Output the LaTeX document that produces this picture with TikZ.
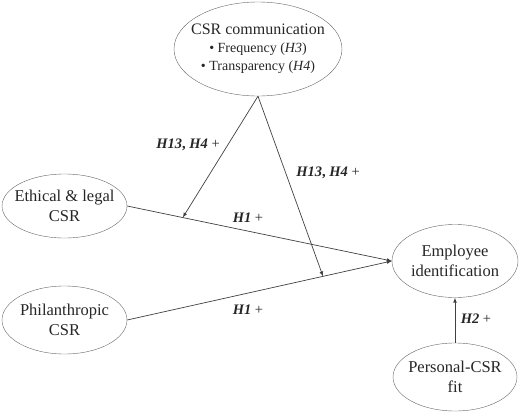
\documentclass[tikz,border=0pt]{standalone}
\usepackage{fontspec}
\setmainfont{Liberation Serif}
\usetikzlibrary{shapes.geometric,calc}
\begin{document}
\begin{tikzpicture}[>=latex,x=1pt,y=-1pt,
  var/.style={draw=black!60,ellipse,inner xsep=-10pt,inner ysep=0pt,align=center,text=black!85,font=\fontsize{16.5}{20}\selectfont},
  link/.style={->,draw=black!75,line width=.7pt},
  hyp/.style={text=black!85,font=\fontsize{14.5}{16}\selectfont}]
\useasboundingbox (0,0) rectangle (520,413);

\node[var,inner xsep=-11pt,minimum width=168,minimum height=94,font=\fontsize{14}{18}\selectfont] (csr) at (258,49)
  {{\fontsize{16}{18}\selectfont CSR communication}\\
   \textbullet\ Frequency (\textit{H3})\\
   \textbullet\ Transparency (\textit{H4})};
\node[var,minimum width=125,minimum height=64] (eth) at (64.5,206) {Ethical \& legal\\CSR};
\node[var,minimum width=125,minimum height=68] (phil) at (64.5,320) {Philanthropic\\CSR};
\node[var,minimum width=126,minimum height=73] (emp) at (455,261) {Employee\\identification};
\node[var,minimum width=124,minimum height=68] (fit) at (455,377) {Personal-CSR\\fit};

\coordinate (m1) at ($(eth.east)!.21!(emp.west)$);
\coordinate (m2) at ($(phil.east)!.74!(emp.west)$);

\draw[link] (eth.east) -- (emp.west);
\draw[link] (phil.east) -- (emp.west);
\draw[link] (fit.north) -- (emp.south);
\draw[link] (csr.south) -- (m1);
\draw[link] (csr.south) -- (m2);

\node[hyp] (h1a) at (188,145) {\textbf{\textit{H13}, \textit{H4}} +};
\node[hyp] (h1b) at (328,173) {\textbf{\textit{H13}, \textit{H4}} +};
\node[hyp] (h2a) at (248,218) {\textbf{\textit{H1}} +};
\node[hyp] (h2b) at (248,310) {\textbf{\textit{H1}} +};
\node[hyp] (h3) at (476,319) {\textbf{\textit{H2}} +};

\end{tikzpicture}
\end{document}
